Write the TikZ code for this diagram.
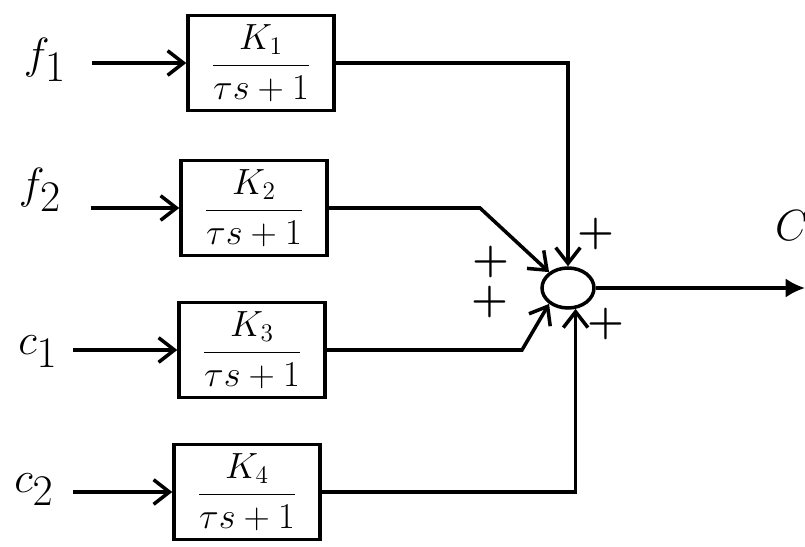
\documentclass[tikz,border=0pt]{standalone}
\usetikzlibrary{arrows.meta,shapes.geometric}
\begin{document}
\begin{tikzpicture}[x=0.02cm,y=-0.02cm, line width=2pt,
  blk/.style={draw, minimum width=2.92cm, minimum height=1.9cm, inner sep=0pt, font=\fontsize{20}{24}\selectfont},
  lab/.style={font=\fontsize{34}{38}\selectfont, inner sep=2pt},
  arr/.style={-{Straight Barb[length=9pt,width=14pt]}},
  sig/.style={font=\fontsize{24}{28}\selectfont\bfseries, inner sep=0pt}]
\useasboundingbox (0,0) rectangle (805,547);
% blocks
\node[blk] (b1) at (261,63) {$\displaystyle\frac{K_1}{\tau s+1}$};
\node[blk] (b2) at (254,208) {$\displaystyle\frac{K_2}{\tau s+1}$};
\node[blk] (b3) at (252,350) {$\displaystyle\frac{K_3}{\tau s+1}$};
\node[blk] (b4) at (247,492) {$\displaystyle\frac{K_4}{\tau s+1}$};
% input labels
\node[lab] (f1) at (45,60) {$f_1$};
\node[lab] (f2) at (40,190) {$f_2$};
\node[lab] (c1) at (38,352) {$c_1$};
\node[lab] (c2) at (34,490) {$c_2$};
% input arrows
\draw[arr, shorten <=12pt] (f1.east |- b1.west) -- (b1.west);
\draw[arr, shorten <=14pt] (f2.east |- b2.west) -- (b2.west);
\draw[arr, shorten <=6pt] (c1.east |- b3.west) -- (b3.west);
\draw[arr, shorten <=8pt] (c2.east |- b4.west) -- (b4.west);
% summing junction
\node[draw, ellipse, minimum width=1.04cm, minimum height=0.8cm, inner sep=0pt] (s) at (568,288) {};
\coordinate (k2) at (480,208);
\coordinate (k3) at (522,350);
\coordinate (out) at (805,288);
\draw[arr] (b1.east) -| (s.north);
\draw[arr] (b2.east) -- (k2) -- (s.140);
\draw[arr] (b3.east) -- (k3) -- (s.220);
\draw[arr] (b4.east) -| (s.290);
\draw[-{Latex[length=11pt,width=11pt]}] (s.east) -- (out);
% output label
\node[lab] (cl) at (792,226) {$C$};
% signs
\node[sig] (p1) at (596,234) {+};
\node[sig] (p2) at (491,262) {+};
\node[sig] (p3) at (490,302) {+};
\node[sig] (p4) at (606,324) {+};
\end{tikzpicture}
\end{document}
